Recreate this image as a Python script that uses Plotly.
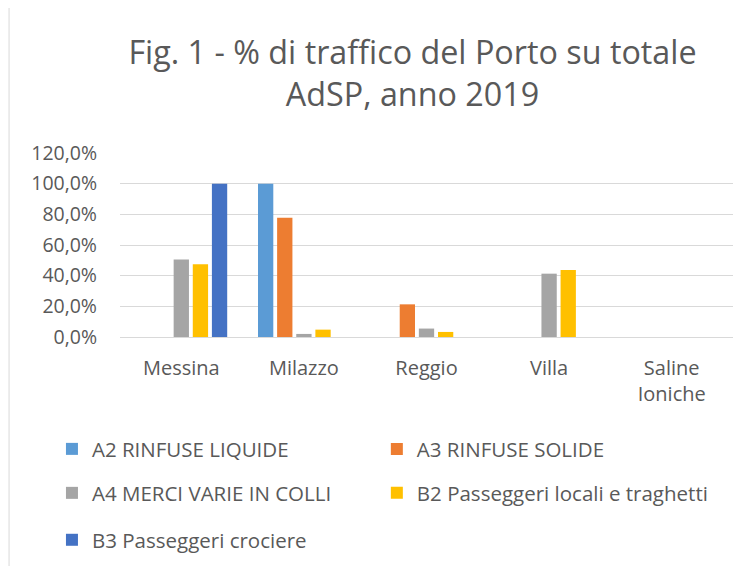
import plotly.graph_objects as go

categories = ["Messina", "Milazzo", "Reggio", "Villa", "Saline<br>Ioniche"]
series_names = [
    "A2 RINFUSE LIQUIDE",
    "A3 RINFUSE SOLIDE",
    "A4 MERCI VARIE IN COLLI",
    "B2 Passeggeri locali e traghetti",
    "B3 Passeggeri crociere",
]
a2 = [0, 100.0, 0, 0, 0]
a3 = [0, 77.8, 21.3, 0, 0]
a4 = [50.5, 2.0, 5.5, 41.3, 0]
b2 = [47.4, 4.8, 3.3, 43.7, 0]
b3 = [100.0, 0, 0, 0, 0]
values = [a2, a3, a4, b2, b3]
colors = ["#5B9BD5", "#ED7D31", "#A5A5A5", "#FFC000", "#4472C4"]
legend_ids = ["legend", "legend2", "legend3", "legend4", "legend5"]
y_ticks = [0, 0.2, 0.4, 0.6, 0.8, 1.0, 1.2]

FONT = "Open Sans"
TXT = "#595959"

fig = go.Figure()
for name, vals, col, lg in zip(series_names, values, colors, legend_ids):
    fig.add_trace(go.Bar(x=categories, y=[v / 100 for v in vals], name=name,
                         marker_color=col, marker_line_width=0, legend=lg,
                         showlegend=True))

legend_common = dict(orientation="h",
                     font=dict(family=FONT, size=20.5, color=TXT),
                     bgcolor="rgba(0,0,0,0)", xanchor="left", yanchor="middle",
                     itemwidth=30, visible=True)

col1, col2 = -0.111, 0.419
row1, row2, row3 = -0.609, -0.848, -1.103

fig.update_layout(
    width=751, height=566,
    margin=dict(l=112, r=26, t=145, b=237),
    paper_bgcolor="white", plot_bgcolor="white",
    separators=",.",
    showlegend=True,
    barmode="group", bargap=0.22, bargroupgap=0.2,
    title=dict(text="Fig. 1 - % di traffico del Porto su totale<br>AdSP, anno 2019",
               font=dict(family=FONT, size=32.3, color=TXT),
               x=0.5386, xanchor="center", y=0.901, yanchor="top"),
    xaxis=dict(showgrid=False, showline=True, linecolor="#D9D9D9", linewidth=1,
               tickfont=dict(family=FONT, size=20, color=TXT), ticks="",
               ticklabelstandoff=13),
    yaxis=dict(range=[0, 1.2], tickvals=y_ticks, tickformat=".1%",
               showgrid=True, gridcolor="#D9D9D9", gridwidth=1, zeroline=False,
               showline=False, ticks="", ticklen=0, ticklabelstandoff=22,
               tickfont=dict(family=FONT, size=19.5, color=TXT)),
    legend=dict(legend_common, x=col1, y=row1),
    legend2=dict(legend_common, x=col2, y=row1),
    legend3=dict(legend_common, x=col1, y=row2),
    legend4=dict(legend_common, x=col2, y=row2),
    legend5=dict(legend_common, x=col1, y=row3),
    shapes=[dict(type="line", xref="paper", yref="paper",
                 x0=-0.181, x1=-0.181, y0=-1.4, y1=2.0,
                 line=dict(color="#D9D9D9", width=1))],
)

fig.write_html("out.html")
